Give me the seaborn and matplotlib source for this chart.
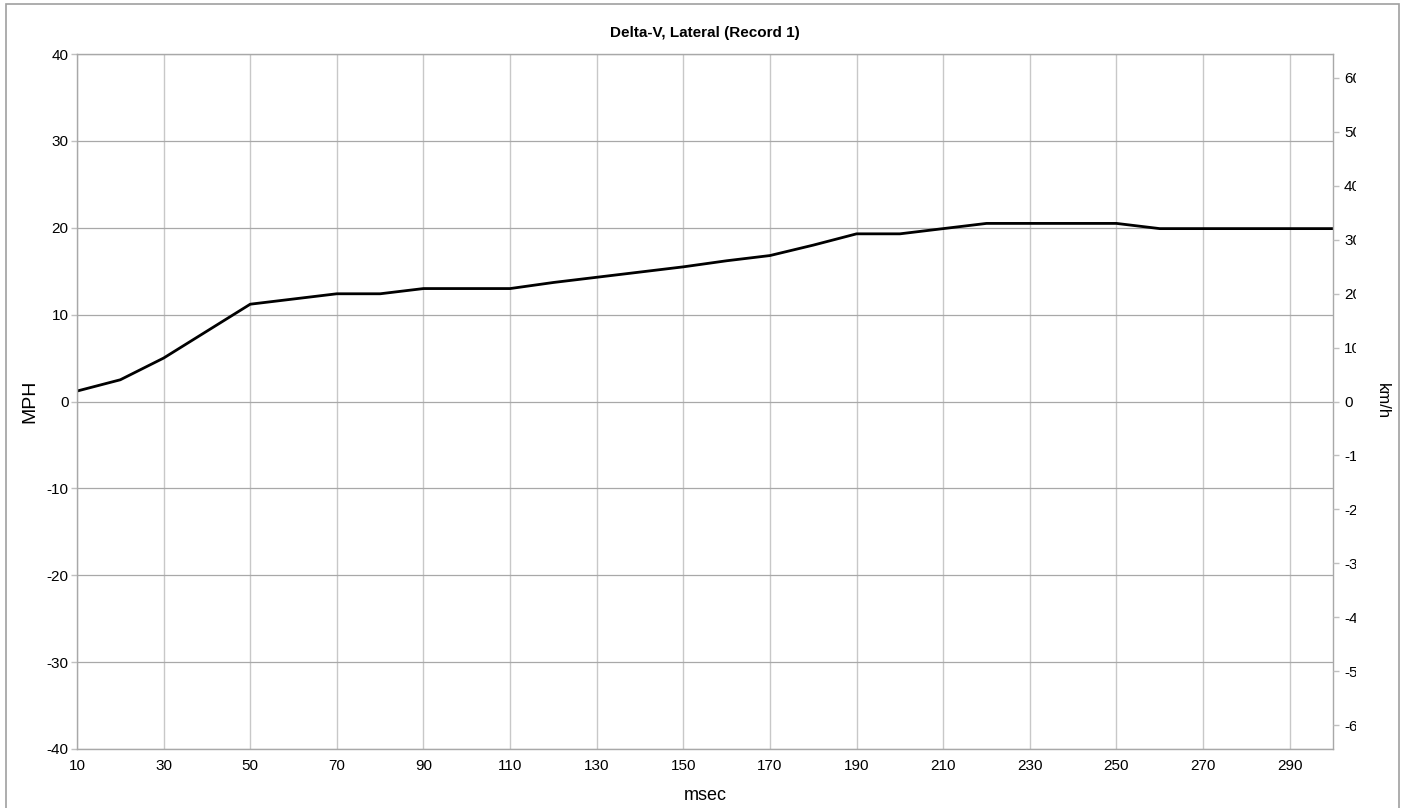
import numpy as np
import pandas as pd
import matplotlib
matplotlib.use("Agg")
import matplotlib.pyplot as plt
import seaborn as sns
from matplotlib.patches import Rectangle
from matplotlib.transforms import Bbox, TransformedBbox

# data (mph)
msec = [10, 20, 30, 40, 50, 60, 70, 80, 90, 100, 110, 120, 130, 140, 150,
        160, 170, 180, 190, 200, 210, 220, 230, 240, 250, 260, 270, 280, 290, 300]
mph = [1.2, 2.5, 5.0, 8.1, 11.2, 11.8, 12.4, 12.4, 13.0, 13.0, 13.0, 13.7, 14.3, 14.9, 15.5,
       16.2, 16.8, 18.0, 19.3, 19.3, 19.9, 20.5, 20.5, 20.5, 20.5, 19.9, 19.9, 19.9, 19.9, 19.9]
x_ticks = list(range(10, 300, 20))
mph_ticks = list(range(-40, 41, 10))
kmh_ticks = list(range(-60, 61, 10))
KMH = 1.609344

df = pd.DataFrame({"msec": msec, "mph": mph})

sns.set_style("white")
plt.rcParams["font.family"] = ["Liberation Sans", "DejaVu Sans"]
plt.rcParams["axes.unicode_minus"] = False
plt.rcParams["text.color"] = "black"
plt.rcParams["axes.labelcolor"] = "black"

fig = plt.figure(figsize=(14.07, 8.08), dpi=100)
ax = fig.add_axes([77 / 1407, 1 - 749 / 808, (1333 - 77) / 1407, (749 - 54) / 808])

sns.lineplot(data=df, x="msec", y="mph", color="black", linewidth=2.0, ax=ax)

ax.set_xlim(10, 300)
ax.set_ylim(-40, 40)
ax.set_xticks(x_ticks)
ax.set_yticks(mph_ticks)
ax.grid(True, axis="x", color="#c8c8c8", linewidth=1.0)
ax.grid(True, axis="y", color="#a8a8a8", linewidth=0.9)
ax.set_axisbelow(True)
for s in ax.spines.values():
    s.set_color("#a8a8a8")
    s.set_linewidth(1.0)
ax.tick_params(axis="both", length=4, width=1, color="#c0c0c0", labelsize=11,
               labelcolor="black", pad=2)
ax.tick_params(axis="x", pad=3)

ax.set_title("Delta-V, Lateral (Record 1)", fontsize=11, fontweight="bold", pad=12)
ax.set_xlabel("msec", fontsize=13, va="center")
ax.set_ylabel("MPH", fontsize=14, va="center")
ax.xaxis.set_label_coords(0.5, (749 - 795) / 695)
ax.yaxis.set_label_coords((30 - 77) / 1256, 0.5)

ax2 = ax.twinx()
ax2.set_ylim(-40 * KMH, 40 * KMH)
ax2.set_yticks(kmh_ticks)
ax2.tick_params(axis="y", length=4, width=1, color="#c0c0c0", labelsize=11,
                labelcolor="black", pad=4)
for s in ax2.spines.values():
    s.set_visible(False)
ax2.set_ylabel("km/h", fontsize=12, rotation=270, va="center")
ax2.yaxis.set_label_coords((1382 - 77) / 1256, 0.5)

fig.canvas.draw()
clip = TransformedBbox(Bbox([[0, 0], [1356 / 1407, 1]]), fig.transFigure)
for lbl in ax2.get_yticklabels():
    lbl.set_clip_on(True)
    lbl.set_clip_box(clip)

fig.patches.append(Rectangle((6 / 1407, -0.01), (1399 - 6) / 1407, 1.01 - 4 / 808,
                             transform=fig.transFigure, fill=False,
                             edgecolor="#a0a0a0", linewidth=1.2))

fig.savefig("out.png", dpi=100)
